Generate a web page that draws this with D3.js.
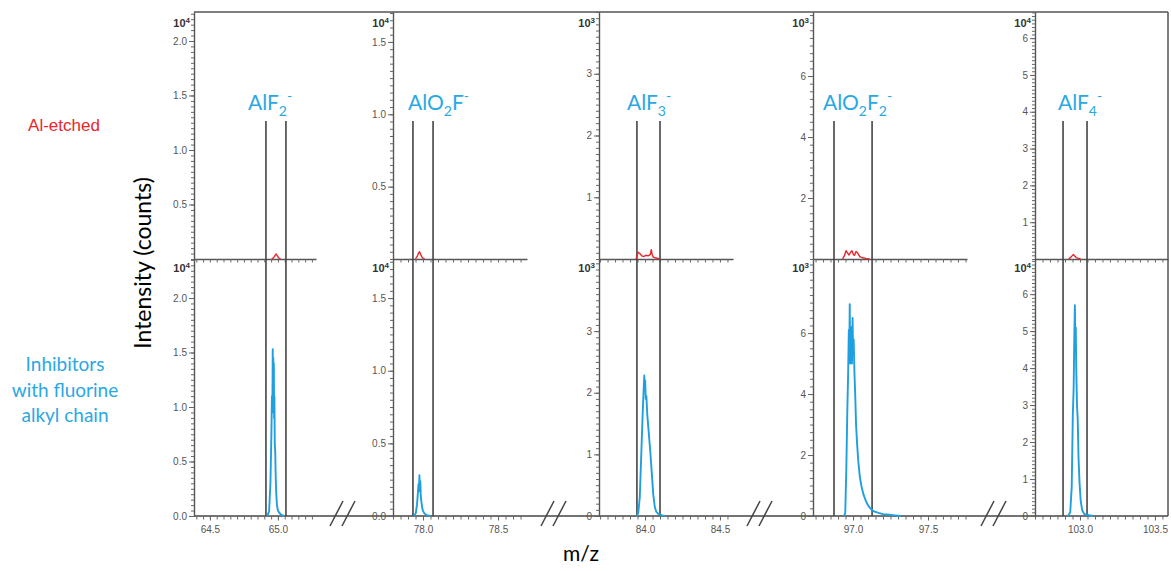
<!DOCTYPE html>
<html><head><meta charset="utf-8">
<script src="https://cdn.jsdelivr.net/npm/d3@7"></script>
<style>body{margin:0;background:#fff}svg{display:block}</style>
</head><body>
<svg id="chart" width="1171" height="571"></svg>
<script>
// ---------------- DATA ----------------
const ionLabels = [
  [["AlF",0],["2",1],["-",2]],
  [["AlO",0],["2",1],["F",0],["-",2]],
  [["AlF",0],["3",1],["-",2]],
  [["AlO",0],["2",1],["F",0],["2",1],["-",2]],
  [["AlF",0],["4",1],["-",2]]
];
const exponents = [4, 4, 3, 3, 4];
const yTickFormats = [".1f", ".1f", "d", "d", "d"];
const xTickLabels = [[64.5, 65.0], [78.0, 78.5], [84.0, 84.5], [97.0, 97.5], [103.0, 103.5]];
const xDomains = [[64.383, 65.28], [77.8, 78.693], [83.693, 84.587], [96.733, 97.76], [102.7, 103.587]];
const yTicksTop = [[0.5, 1.0, 1.5, 2.0], [0.5, 1.0, 1.5], [1, 2, 3], [2, 4, 6], [1, 2, 3, 4, 5, 6]];
const yTicksBottom = [[0, 0.5, 1.0, 1.5, 2.0], [0, 0.5, 1.0, 1.5], [0, 1, 2, 3], [0, 2, 4, 6], [0, 1, 2, 3, 4, 5, 6]];
const yDomainsTop = [[0, 2.266], [0, 1.707], [0, 4.0], [0, 8.1], [0, 6.71]];
const yDomainsBottom = [[0, 2.358], [0, 1.769], [0, 4.17], [0, 8.43], [0, 6.95]];
const yMinorSteps = [0.05, 0.05, 0.1, 0.25, 0.1];
const windows = [[64.912, 65.059], [77.933, 78.067], [83.946, 84.1], [96.873, 97.127], [102.887, 103.047]];

// AlF2- (x10^4)
const mzAlF2 = [64.920, 64.935, 64.945, 64.952, 64.956, 64.959, 64.962, 64.964, 64.966, 64.968, 64.970, 64.972, 64.974, 64.977, 64.980, 64.984, 64.988, 64.993, 65.000, 65.010, 65.025, 65.045];
const inhAlF2 = [0, 0.04, 0.3, 0.75, 1.1, 0.95, 1.53, 1.0, 1.45, 1.05, 1.4, 0.9, 1.1, 0.65, 0.6, 0.35, 0.2, 0.1, 0.05, 0.03, 0.01, 0];
const mzEtchAlF2 = [64.955, 64.970, 64.980, 64.988, 64.995, 65.005, 65.020];
const etchAlF2 = [0, 0.015, 0.035, 0.045, 0.03, 0.01, 0];

// AlO2F- (x10^4)
const mzAlO2F = [77.940, 77.952, 77.960, 77.966, 77.970, 77.973, 77.976, 77.979, 77.982, 77.985, 77.989, 77.994, 78.000, 78.008, 78.018, 78.030, 78.050];
const inhAlO2F = [0, 0.02, 0.08, 0.16, 0.22, 0.17, 0.28, 0.19, 0.24, 0.14, 0.1, 0.06, 0.035, 0.02, 0.01, 0.004, 0];
const mzEtchAlO2F = [77.950, 77.962, 77.970, 77.977, 77.985, 77.995, 78.010];
const etchAlO2F = [0, 0.02, 0.04, 0.05, 0.03, 0.01, 0];

// AlF3- (x10^3)
const mzAlF3 = [83.945, 83.955, 83.965, 83.975, 83.985, 83.991, 83.995, 83.998, 84.001, 84.005, 84.009, 84.015, 84.025, 84.035, 84.045, 84.055, 84.065, 84.075, 84.090, 84.115, 84.135];
const inhAlF3 = [0, 0.05, 0.3, 1.0, 1.7, 2.05, 2.28, 2.05, 2.2, 1.9, 1.95, 1.65, 1.35, 1.05, 0.7, 0.35, 0.15, 0.07, 0.03, 0.01, 0];
const mzEtchAlF3 = [83.940, 83.948, 83.955, 83.965, 83.978, 83.992, 84.005, 84.020, 84.035, 84.042, 84.048, 84.055, 84.068, 84.085, 84.100];
const etchAlF3 = [0, 0.06, 0.11, 0.09, 0.05, 0.04, 0.06, 0.05, 0.07, 0.15, 0.07, 0.03, 0.02, 0.01, 0];

// AlO2F2- (x10^3)
const mzAlO2F2 = [96.940, 96.948, 96.955, 96.962, 96.967, 96.972, 96.975, 96.978, 96.981, 96.984, 96.987, 96.990, 96.993, 96.997, 97.000, 97.004, 97.010, 97.015, 97.020, 97.028, 97.035, 97.045, 97.055, 97.070, 97.085, 97.100, 97.120, 97.140, 97.170, 97.200, 97.240, 97.280, 97.320];
const inhAlO2F2 = [0, 0.1, 1.5, 3.5, 4.6, 6.1, 5.2, 6.95, 5.0, 6.1, 5.3, 6.2, 5.0, 6.5, 5.4, 5.8, 4.6, 3.9, 3.0, 2.3, 1.8, 1.3, 1.0, 0.7, 0.5, 0.35, 0.22, 0.15, 0.1, 0.06, 0.04, 0.02, 0];
const mzEtchAlO2F2 = [96.930, 96.942, 96.953, 96.963, 96.973, 96.983, 96.993, 97.002, 97.010, 97.020, 97.030, 97.045, 97.065, 97.085, 97.110];
const etchAlO2F2 = [0, 0.1, 0.27, 0.2, 0.13, 0.22, 0.27, 0.15, 0.12, 0.25, 0.2, 0.08, 0.04, 0.02, 0];

// AlF4- (x10^4)
const mzAlF4 = [102.920, 102.935, 102.945, 102.952, 102.958, 102.962, 102.966, 102.969, 102.972, 102.975, 102.980, 102.985, 102.990, 102.997, 103.005, 103.015, 103.030, 103.060, 103.090];
const inhAlF4 = [0, 0.1, 0.8, 2.7, 3.5, 4.8, 5.7, 4.7, 5.1, 4.0, 3.0, 2.6, 1.6, 0.9, 0.4, 0.15, 0.05, 0.02, 0];
const mzEtchAlF4 = [102.925, 102.940, 102.950, 102.957, 102.965, 102.975, 102.990, 103.005];
const etchAlF4 = [0, 0.05, 0.1, 0.12, 0.08, 0.04, 0.015, 0];

const rowLabelTop = "Al-etched";
const rowLabelBottom = ["Inhibitors", "with fluorine", "alkyl chain"];
const yTitle = "Intensity (counts)";
const xTitle = "m/z";

// ---------------- LAYOUT ----------------
const panelLeft = [194, 393, 599, 813, 1035];
const panelRight = [316, 527, 733, 967, 1168];
const labelLeft = [248, 408, 627, 823, 1058];
const Y_TOP = 12, Y_MID = 259, Y_BOT = 516, V_TOP = 121;
const BLUE = "#1f9fe0", LABEL_BLUE = "#2aa8e4", RED = "#e8262c", AXIS = "#555";
const SANS = "Lato, 'Open Sans', sans-serif";
const TICKFONT = "'Liberation Sans', Arial, sans-serif";

const inhMz = [mzAlF2, mzAlO2F, mzAlF3, mzAlO2F2, mzAlF4];
const inhVal = [inhAlF2, inhAlO2F, inhAlF3, inhAlO2F2, inhAlF4];
const etchMz = [mzEtchAlF2, mzEtchAlO2F, mzEtchAlF3, mzEtchAlO2F2, mzEtchAlF4];
const etchVal = [etchAlF2, etchAlO2F, etchAlF3, etchAlO2F2, etchAlF4];

const svg = d3.select("#chart");

function styleAxis(g, labels) {
  g.selectAll("path.domain").attr("stroke", AXIS).attr("stroke-width", 1.4);
  g.selectAll(".tick line").attr("stroke", "#666").attr("stroke-width", 1);
  g.selectAll(".tick text").attr("fill", "#555").style("font-family", TICKFONT).style("font-size", "10px");
  if (!labels) g.selectAll(".tick text").remove();
}
function rangeTicks(dom, step) {
  const out = [];
  const s = Math.ceil(dom[0] / step - 1e-6);
  for (let k = s; k * step <= dom[1] + 1e-9; k++) out.push(+(k * step).toFixed(4));
  return out;
}

// frame
svg.append("line").attr("x1", panelLeft[0]).attr("x2", 1168).attr("y1", Y_TOP).attr("y2", Y_TOP)
  .attr("stroke", AXIS).attr("stroke-width", 1.5);
svg.append("line").attr("x1", 1168).attr("x2", 1168).attr("y1", Y_TOP).attr("y2", Y_BOT)
  .attr("stroke", AXIS).attr("stroke-width", 1.5);
svg.append("line").attr("x1", panelLeft[0]).attr("x2", 1168).attr("y1", Y_BOT).attr("y2", Y_BOT)
  .attr("stroke", "#444").attr("stroke-width", 1.6);

ionLabels.forEach((parts, i) => {
  const x = d3.scaleLinear().domain(xDomains[i]).range([panelLeft[i], panelRight[i]]);
  const yT = d3.scaleLinear().domain(yDomainsTop[i]).range([Y_MID, Y_TOP]);
  const yB = d3.scaleLinear().domain(yDomainsBottom[i]).range([Y_BOT, Y_MID]);
  const fmt = d3.format(yTickFormats[i]);
  const g = svg.append("g");

  const xMinor = rangeTicks(xDomains[i], 0.05);
  [Y_MID, Y_BOT].forEach(yy => {
    const ax = g.append("g").attr("transform", `translate(0,${yy})`)
      .call(d3.axisBottom(x).tickValues(xMinor).tickSize(3.5).tickSizeOuter(0).tickFormat(""));
    styleAxis(ax, false);
    if (yy === Y_BOT) ax.select("path.domain").remove();
  });
  const xMaj = g.append("g").attr("transform", `translate(0,${Y_BOT})`)
    .call(d3.axisBottom(x).tickValues(xTickLabels[i]).tickSize(4.5).tickPadding(5).tickFormat(d3.format(".1f")));
  styleAxis(xMaj, true);
  xMaj.select("path.domain").remove();

  [[yT, yTicksTop[i], yDomainsTop[i]], [yB, yTicksBottom[i], yDomainsBottom[i]]].forEach(([ys, ticks, dom]) => {
    const minor = g.append("g").attr("transform", `translate(${panelLeft[i]},0)`)
      .call(d3.axisLeft(ys).tickValues(rangeTicks(dom, yMinorSteps[i])).tickSize(3).tickSizeOuter(0).tickFormat(""));
    styleAxis(minor, false);
    const major = g.append("g").attr("transform", `translate(${panelLeft[i]},0)`)
      .call(d3.axisLeft(ys).tickValues(ticks).tickSize(5).tickPadding(2).tickSizeOuter(0).tickFormat(fmt));
    styleAxis(major, true);
    major.select("path.domain").remove();
    const ex = g.append("text").attr("x", panelLeft[i] - 4).attr("y", ys.range()[1] + (ys === yT ? 15 : 13))
      .attr("text-anchor", "end").attr("fill", "#333")
      .style("font-family", TICKFONT).style("font-size", "11px").style("font-weight", "bold");
    ex.append("tspan").text("10");
    ex.append("tspan").attr("dy", -4).style("font-size", "8px").text(exponents[i]);
  });

  windows[i].forEach(m => {
    g.append("line").attr("x1", x(m)).attr("x2", x(m)).attr("y1", V_TOP).attr("y2", Y_BOT)
      .attr("stroke", "#444").attr("stroke-width", 1.6);
  });

  const lineB = d3.line().x(d => x(d[0])).y(d => yB(d[1]));
  const lineT = d3.line().x(d => x(d[0])).y(d => yT(d[1]));
  g.append("path").datum(d3.zip(etchMz[i], etchVal[i])).attr("d", lineT)
    .attr("fill", "none").attr("stroke", RED).attr("stroke-width", 1.4).attr("stroke-linejoin", "round");
  g.append("path").datum(d3.zip(inhMz[i], inhVal[i])).attr("d", lineB)
    .attr("fill", "none").attr("stroke", BLUE).attr("stroke-width", 1.9).attr("stroke-linejoin", "round");

  const t = g.append("text").attr("x", labelLeft[i]).attr("y", 110).attr("fill", LABEL_BLUE)
    .style("font-family", SANS).style("font-size", "21px");
  let shift = 0;
  parts.forEach(([s, kind]) => {
    const target = kind === 1 ? 6 : kind === 2 ? -9 : 0;
    t.append("tspan").attr("dy", target - shift).style("font-size", kind ? "14px" : "21px").text(s);
    shift = target;
  });

  if (i < 4) {
    const cx = panelRight[i] + 27;
    [-13, -1].forEach(o => {
      svg.append("line").attr("x1", cx + o).attr("y1", 526).attr("x2", cx + o + 13).attr("y2", 501)
        .attr("stroke", "#444").attr("stroke-width", 1.5);
    });
  }
});

svg.append("text").attr("x", 64).attr("y", 131).attr("text-anchor", "middle").attr("fill", RED)
  .style("font-family", TICKFONT).style("font-size", "17px").text(rowLabelTop);
rowLabelBottom.forEach((s, k) => {
  svg.append("text").attr("x", 65).attr("y", 371 + k * 25.5).attr("text-anchor", "middle").attr("fill", LABEL_BLUE)
    .style("font-family", SANS).style("font-size", "19px").text(s);
});
svg.append("text").attr("transform", "translate(151,263) rotate(-90)").attr("text-anchor", "middle")
  .attr("fill", "#000").style("font-family", SANS).style("font-size", "23px").text(yTitle);
svg.append("text").attr("x", 581).attr("y", 561).attr("text-anchor", "middle")
  .attr("fill", "#000").style("font-family", SANS).style("font-size", "21px").text(xTitle);
</script>
</body></html>
